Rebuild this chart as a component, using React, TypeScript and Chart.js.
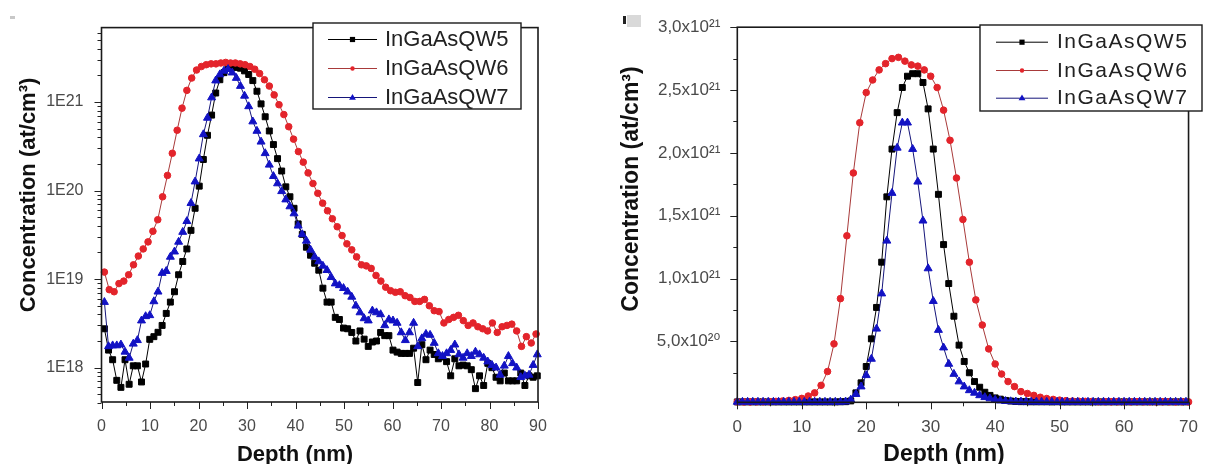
import React, { useEffect, useRef } from "react";
import { Chart, registerables } from "chart.js";

Chart.register(...registerables);

// ---------------- Series names ----------------
const NAME_QW5 = "InGaAsQW5";
const NAME_QW6 = "InGaAsQW6";
const NAME_QW7 = "InGaAsQW7";

// ---------------- Left panel (log scale) ----------------
const leftDepthQW6 = [
  0.6, 1.6, 2.6, 3.6, 4.6, 5.6, 6.6, 7.6, 8.6, 9.6,
  10.6, 11.6, 12.6, 13.6, 14.6, 15.6, 16.6, 17.6, 18.6, 19.6,
  20.6, 21.6, 22.6, 23.6, 24.6, 25.6, 26.6, 27.6, 28.6, 29.6,
  30.6, 31.6, 32.6, 33.6, 34.6, 35.6, 36.6, 37.6, 38.6, 39.6,
  40.6, 41.6, 42.6, 43.6, 44.6, 45.6, 46.6, 47.6, 48.6, 49.6,
  50.6, 51.6, 52.6, 53.6, 54.6, 55.6, 56.6, 57.6, 58.6, 59.6,
  60.6, 61.6, 62.6, 63.6, 64.6, 65.6, 66.6, 67.6, 68.6, 69.6,
  70.6, 71.6, 72.6, 73.6, 74.6, 75.6, 76.6, 77.6, 78.6, 79.6,
  80.6, 81.6, 82.6, 83.6, 84.6, 85.6, 86.6, 87.6, 88.6, 89.6,
];
const leftQW6 = [
  1.2e19, 7.6e18, 7.2e18, 8.9e18, 9.5e18, 1.12e19, 1.45e19, 1.82e19, 2.19e19, 2.63e19,
  3.47e19, 4.68e19, 8.5e19, 1.48e20, 2.63e20, 4.79e20, 8.5e20, 1.35e21, 1.86e21, 2.29e21,
  2.51e21, 2.63e21, 2.69e21, 2.69e21, 2.75e21, 2.79e21, 2.75e21, 2.75e21, 2.69e21, 2.63e21,
  2.51e21, 2.34e21, 2.09e21, 1.78e21, 1.51e21, 1.2e21, 9.3e20, 7.2e20, 5.25e20, 3.8e20,
  2.75e20, 2.09e20, 1.58e20, 1.2e20, 9.3e19, 7.2e19, 5.9e19, 4.8e19, 3.9e19, 3.1e19,
  2.5e19, 2.14e19, 1.78e19, 1.45e19, 1.41e19, 1.32e19, 1.1e19, 9.5e18, 8.1e18, 7.4e18,
  7.1e18, 7.2e18, 6.5e18, 6.2e18, 5.6e18, 5.6e18, 5.9e18, 5.0e18, 4.4e18, 4.3e18,
  3.2e18, 3.5e18, 3.7e18, 3.9e18, 3.4e18, 3.0e18, 3.2e18, 2.9e18, 2.75e18, 2.6e18,
  3.2e18, 2.5e18, 2.9e18, 3.0e18, 3.1e18, 2.6e18, 1.74e18, 2.24e18, 1.9e18, 2.4e18,
];
const leftDepthQW57 = [
  0.6, 1.45, 2.3, 3.15, 4, 4.85, 5.7, 6.55, 7.4, 8.25,
  9.1, 9.95, 10.8, 11.65, 12.5, 13.35, 14.2, 15.05, 15.9, 16.75,
  17.6, 18.45, 19.3, 20.15, 21, 21.85, 22.7, 23.55, 24.4, 25.25,
  26.1, 26.95, 27.8, 28.65, 29.5, 30.35, 31.2, 32.05, 32.9, 33.75,
  34.6, 35.45, 36.3, 37.15, 38, 38.85, 39.7, 40.55, 41.4, 42.25,
  43.1, 43.95, 44.8, 45.65, 46.5, 47.35, 48.2, 49.05, 49.9, 50.75,
  51.6, 52.45, 53.3, 54.15, 55, 55.85, 56.7, 57.55, 58.4, 59.25,
  60.1, 60.95, 61.8, 62.65, 63.5, 64.35, 65.2, 66.05, 66.9, 67.75,
  68.6, 69.45, 70.3, 71.15, 72, 72.85, 73.7, 74.55, 75.4, 76.25,
  77.1, 77.95, 78.8, 79.65, 80.5, 81.35, 82.2, 83.05, 83.9, 84.75,
  85.6, 86.45, 87.3, 88.15, 89, 89.85,
];
const leftQW5 = [
  2.75e18, 1.58e18, 1.23e18, 7.2e17, 6.0e17, 1.23e18, 6.5e17, 1.05e18, 1.05e18, 6.9e17,
  1.1e18, 2.09e18, 2.24e18, 2.51e18, 3.0e18, 4.1e18, 5.5e18, 7.2e18, 1.12e19, 1.58e19,
  2.19e19, 3.55e19, 6.3e19, 1.12e20, 2.24e20, 4.2e20, 7.1e20, 1.26e21, 1.78e21, 2.14e21,
  2.4e21, 2.51e21, 2.45e21, 2.4e21, 2.24e21, 2.04e21, 1.74e21, 1.32e21, 9.5e20, 6.8e20,
  4.7e20, 3.3e20, 2.29e20, 1.66e20, 1.1e20, 8.5e19, 6.3e19, 4.2e19, 3.2e19, 2.29e19,
  1.86e19, 1.51e19, 1.26e19, 7.9e18, 5.5e18, 5.5e18, 3.7e18, 3.5e18, 2.8e18, 2.75e18,
  2.5e18, 2.0e18, 2.6e18, 2.1e18, 1.74e18, 1.95e18, 2.0e18, 2.5e18, 2.3e18, 2.3e18,
  1.58e18, 1.5e18, 1.45e18, 1.45e18, 1.45e18, 1.66e18, 6.8e17, 1.82e18, 1.23e18, 1.58e18,
  1.41e18, 1.26e18, 1.32e18, 1.17e18, 8.1e17, 1.26e18, 1.05e18, 1.07e18, 1.05e18, 9.5e17,
  5.8e17, 8.1e17, 6.3e17, 1.12e18, 1.0e18, 7.8e17, 7.1e17, 8.7e17, 7.1e17, 7.1e17,
  7.1e17, 8.7e17, 6.3e17, 8.1e17, 7.8e17, 8.1e17,
];
const leftQW7 = [
  5.5e18, 1.74e18, 1.78e18, 1.78e18, 1.82e18, 1.51e18, 1.29e18, 1.86e18, 2.04e18, 3.4e18,
  3.8e18, 3.9e18, 5.6e18, 7.2e18, 1.17e19, 1.23e19, 1.78e19, 2.04e19, 2.63e19, 3.4e19,
  4.5e19, 7.2e19, 1.26e20, 2.29e20, 4.3e20, 6.6e20, 1.12e21, 1.74e21, 2.04e21, 2.24e21,
  2.34e21, 2.14e21, 1.86e21, 1.51e21, 1.17e21, 8.9e20, 6.0e20, 4.7e20, 3.55e20, 2.63e20,
  1.95e20, 1.45e20, 1.2e20, 9.8e19, 7.9e19, 6.6e19, 5.5e19, 4.0e19, 3.2e19, 2.7e19,
  2.14e19, 1.78e19, 1.58e19, 1.41e19, 1.26e19, 1.05e19, 8.9e18, 8.5e18, 7.9e18, 7.2e18,
  6.3e18, 5.0e18, 4.2e18, 3.6e18, 3.4e18, 4.4e18, 4.2e18, 4.0e18, 3.0e18, 3.5e18,
  3.4e18, 3.2e18, 2.5e18, 2.04e18, 2.5e18, 3.2e18, 1.74e18, 2.14e18, 2.4e18, 2.34e18,
  1.9e18, 1.45e18, 1.35e18, 1.45e18, 1.58e18, 1.82e18, 1.41e18, 1.29e18, 1.45e18, 1.35e18,
  1.51e18, 1.41e18, 1.29e18, 1.17e18, 1.07e18, 1.0e18, 8.3e17, 1.05e18, 1.35e18, 1.12e18,
  1.0e18, 7.8e17, 8.1e17, 8.3e17, 1.07e18, 1.41e18,
];

const leftXTicks = [0, 10, 20, 30, 40, 50, 60, 70, 80, 90];
const leftXMinor = [5, 15, 25, 35, 45, 55, 65, 75, 85];
const leftYTicks = [1e18, 1e19, 1e20, 1e21];
const leftYTickLabels = ["1E18", "1E19", "1E20", "1E21"];
const leftYMinor = [
  4e17, 5e17, 6e17, 7e17, 8e17, 9e17,
  2e18, 3e18, 4e18, 5e18, 6e18, 7e18, 8e18, 9e18,
  2e19, 3e19, 4e19, 5e19, 6e19, 7e19, 8e19, 9e19,
  2e20, 3e20, 4e20, 5e20, 6e20, 7e20, 8e20, 9e20,
  2e21, 3e21, 4e21, 5e21, 6e21,
];

// ---------------- Right panel (linear scale) ----------------
const rightDepthQW6 = [
  0, 1, 2, 3, 4, 5, 6, 7, 8, 9,
  10, 11, 12, 13, 14, 15, 16, 17, 18, 19,
  20, 21, 22, 23, 24, 25, 26, 27, 28, 29,
  30, 31, 32, 33, 34, 35, 36, 37, 38, 39,
  40, 41, 42, 43, 44, 45, 46, 47, 48, 49,
  50, 51, 52, 53, 54, 55, 56, 57, 58, 59,
  60, 61, 62, 63, 64, 65, 66, 67, 68, 69,
  70,
];
const rightQW6 = [
  1.8e19, 1.8e19, 1.8e19, 1.9e19, 1.9e19, 2.0e19, 2.2e19, 2.5e19, 3.0e19, 3.6e19,
  4.6e19, 6.5e19, 9.0e19, 1.5e20, 2.6e20, 4.8e20, 8.4e20, 1.34e21, 1.84e21, 2.24e21,
  2.48e21, 2.58e21, 2.66e21, 2.71e21, 2.75e21, 2.76e21, 2.73e21, 2.70e21, 2.69e21, 2.66e21,
  2.61e21, 2.52e21, 2.34e21, 2.10e21, 1.80e21, 1.47e21, 1.13e21, 8.3e20, 6.3e20, 4.4e20,
  3.2e20, 2.4e20, 1.8e20, 1.4e20, 1.0e20, 8.5e19, 7.0e19, 5.5e19, 4.5e19, 3.8e19,
  3.2e19, 2.8e19, 2.5e19, 2.3e19, 2.2e19, 2.1e19, 2.0e19, 2.0e19, 1.9e19, 2.0e19,
  1.9e19, 1.9e19, 2.0e19, 1.9e19, 1.9e19, 1.8e19, 1.9e19, 1.9e19, 1.8e19, 1.9e19,
  1.8e19,
];
const rightDepthQW57 = [
  0, 0.8, 1.6, 2.4, 3.2, 4, 4.8, 5.6, 6.4, 7.2,
  8, 8.8, 9.6, 10.4, 11.2, 12, 12.8, 13.6, 14.4, 15.2,
  16, 16.8, 17.6, 18.4, 19.2, 20, 20.8, 21.6, 22.4, 23.2,
  24, 24.8, 25.6, 26.4, 27.2, 28, 28.8, 29.6, 30.4, 31.2,
  32, 32.8, 33.6, 34.4, 35.2, 36, 36.8, 37.6, 38.4, 39.2,
  40, 40.8, 41.6, 42.4, 43.2, 44, 44.8, 45.6, 46.4, 47.2,
  48, 48.8, 49.6, 50.4, 51.2, 52, 52.8, 53.6, 54.4, 55.2,
  56, 56.8, 57.6, 58.4, 59.2, 60, 60.8, 61.6, 62.4, 63.2,
  64, 64.8, 65.6, 66.4, 67.2, 68, 68.8, 69.6,
];
const rightQW5 = [
  1.8e19, 1.8e19, 1.8e19, 1.8e19, 1.8e19, 1.8e19, 1.8e19, 1.8e19, 1.8e19, 1.8e19,
  1.8e19, 1.8e19, 1.8e19, 1.8e19, 1.8e19, 1.8e19, 1.8e19, 1.8e19, 1.8e19, 1.8e19,
  1.9e19, 2.0e19, 2.6e19, 9.0e19, 1.7e20, 3.0e20, 5.2e20, 7.7e20, 1.13e21, 1.65e21,
  2.03e21, 2.32e21, 2.52e21, 2.61e21, 2.63e21, 2.63e21, 2.56e21, 2.35e21, 2.03e21, 1.67e21,
  1.27e21, 9.6e20, 7.0e20, 4.7e20, 3.4e20, 2.5e20, 1.8e20, 1.35e20, 9.5e19, 7.0e19,
  5.0e19, 4.0e19, 3.0e19, 2.5e19, 2.2e19, 2.0e19, 2.0e19, 1.9e19, 1.9e19, 1.9e19,
  1.9e19, 1.8e19, 1.9e19, 1.8e19, 1.8e19, 1.8e19, 1.8e19, 1.8e19, 1.8e19, 1.8e19,
  1.8e19, 1.8e19, 1.8e19, 1.8e19, 1.8e19, 1.8e19, 1.8e19, 1.8e19, 1.8e19, 1.8e19,
  1.8e19, 1.8e19, 1.8e19, 1.8e19, 1.8e19, 1.8e19, 1.8e19, 1.8e19,
];
const rightQW7 = [
  1.8e19, 1.8e19, 1.8e19, 1.8e19, 1.8e19, 1.8e19, 1.8e19, 1.8e19, 1.8e19, 1.8e19,
  1.8e19, 1.8e19, 1.8e19, 1.8e19, 1.8e19, 1.8e19, 1.8e19, 1.8e19, 1.8e19, 1.8e19,
  1.8e19, 2.0e19, 3.5e19, 8.0e19, 1.4e20, 2.3e20, 3.6e20, 6.0e20, 8.8e20, 1.30e21,
  1.68e21, 2.04e21, 2.24e21, 2.24e21, 2.03e21, 1.77e21, 1.46e21, 1.08e21, 8.2e20, 5.9e20,
  4.5e20, 3.2e20, 2.4e20, 1.8e20, 1.4e20, 1.1e20, 9.0e19, 7.0e19, 5.5e19, 4.5e19,
  3.5e19, 2.8e19, 2.4e19, 2.2e19, 2.0e19, 2.0e19, 1.9e19, 1.9e19, 1.9e19, 1.8e19,
  1.8e19, 1.8e19, 1.8e19, 1.8e19, 1.8e19, 1.8e19, 1.8e19, 1.8e19, 1.8e19, 1.8e19,
  1.8e19, 1.8e19, 1.8e19, 1.8e19, 1.8e19, 1.8e19, 1.8e19, 1.8e19, 1.8e19, 1.8e19,
  1.8e19, 1.8e19, 1.8e19, 1.8e19, 1.8e19, 1.8e19, 1.8e19, 1.8e19,
];

const rightXTicks = [0, 10, 20, 30, 40, 50, 60, 70];
const rightXMinor = [5, 15, 25, 35, 45, 55, 65];
const rightYTicks = [5e20, 1e21, 1.5e21, 2e21, 2.5e21, 3e21];
const rightYTickLabels = ["5,0x10²⁰", "1,0x10²¹", "1,5x10²¹", "2,0x10²¹", "2,5x10²¹", "3,0x10²¹"];
const rightYMinor = [2.5e20, 7.5e20, 1.25e21, 1.75e21, 2.25e21, 2.75e21];

// ---------------- Styling ----------------
const FONT = "'Liberation Sans', Arial, 'DejaVu Sans', sans-serif";
const STYLE: Record<string, { fill: string; line: string; shape: string; r: number; lr: number }> = {
  [NAME_QW5]: { fill: "#000000", line: "#000000", shape: "rect", r: 4.2, lr: 2.6 },
  [NAME_QW6]: { fill: "#e3242b", line: "#a83a3a", shape: "circle", r: 3.3, lr: 2.2 },
  [NAME_QW7]: { fill: "#1212c4", line: "#15157a", shape: "triangle", r: 4.6, lr: 3.6 },
};
const ORDER: Record<string, number> = { [NAME_QW5]: 2, [NAME_QW6]: 1, [NAME_QW7]: 0 };

function dataset(name: string, xs: number[], ys: number[]) {
  const s = STYLE[name];
  return {
    label: name,
    data: xs.map((x, i) => ({ x, y: ys[i] })),
    borderColor: s.line,
    backgroundColor: s.fill,
    pointBackgroundColor: s.fill,
    pointBorderColor: s.fill,
    pointBorderWidth: 1,
    pointStyle: s.shape,
    pointRadius: s.r,
    borderWidth: 1,
    tension: 0,
    clip: false,
    order: ORDER[name],
  };
}

function drawMarker(ctx: CanvasRenderingContext2D, shape: string, x: number, y: number, r: number, color: string) {
  ctx.fillStyle = color;
  ctx.beginPath();
  if (shape === "rect") {
    ctx.rect(x - r, y - r, 2 * r, 2 * r);
  } else if (shape === "triangle") {
    ctx.moveTo(x, y - r);
    ctx.lineTo(x + r * 0.95, y + r * 0.6);
    ctx.lineTo(x - r * 0.95, y + r * 0.6);
    ctx.closePath();
  } else {
    ctx.arc(x, y, r, 0, Math.PI * 2);
  }
  ctx.fill();
}

type Decor = {
  key: string;
  xMajor: number[];
  xMinor: number[];
  yMajor: number[];
  yMinor: number[];
  yTitle: string;
  yTitleX: number;
  yTitleY: number;
  yTitleFont: string;
  xTitle: string;
  xTitleX: number;
  xTitleY: number;
  xTitleFont: string;
  legend: { x: number; y: number; w: number; h: number; rows: number[]; lx0: number; lx1: number; tx: number; font: string; spacing: string };
  artifacts: (ctx: CanvasRenderingContext2D) => void;
};

function makeDecor(d: Decor) {
  return {
    id: "decor-" + d.key,
    afterDraw(chart: any) {
      const ctx: CanvasRenderingContext2D = chart.ctx;
      const a = chart.chartArea;
      const xs = chart.scales.x;
      const ys = chart.scales.y;
      ctx.save();
      // tick marks (outward)
      ctx.strokeStyle = "#222";
      ctx.lineWidth = 1;
      ctx.beginPath();
      const xt = (v: number, len: number) => {
        const p = Math.round(xs.getPixelForValue(v)) + 0.5;
        ctx.moveTo(p, a.bottom);
        ctx.lineTo(p, a.bottom + len);
      };
      const yt = (v: number, len: number) => {
        const p = Math.round(ys.getPixelForValue(v)) + 0.5;
        ctx.moveTo(a.left, p);
        ctx.lineTo(a.left - len, p);
      };
      d.xMajor.forEach((v) => xt(v, 7));
      d.xMinor.forEach((v) => xt(v, 4));
      d.yMajor.forEach((v) => yt(v, 7));
      d.yMinor.forEach((v) => yt(v, 4));
      ctx.stroke();
      // frame
      ctx.strokeStyle = "#1a1a1a";
      ctx.lineWidth = 1.6;
      ctx.strokeRect(a.left, a.top, a.right - a.left, a.bottom - a.top);

      // axis titles
      ctx.fillStyle = "#111";
      ctx.font = d.xTitleFont;
      ctx.textAlign = "center";
      ctx.textBaseline = "alphabetic";
      ctx.fillText(d.xTitle, d.xTitleX, d.xTitleY);
      ctx.save();
      ctx.translate(d.yTitleX, d.yTitleY);
      ctx.rotate(-Math.PI / 2);
      ctx.font = d.yTitleFont;
      ctx.fillText(d.yTitle, 0, 0);
      ctx.restore();

      // legend
      const L = d.legend;
      ctx.fillStyle = "#fff";
      ctx.fillRect(L.x, L.y, L.w, L.h);
      ctx.strokeStyle = "#1a1a1a";
      ctx.lineWidth = 1.4;
      ctx.strokeRect(L.x, L.y, L.w, L.h);
      chart.data.datasets.forEach((ds: any, i: number) => {
        const s = STYLE[ds.label];
        const ry = L.rows[i];
        ctx.strokeStyle = s.line;
        ctx.lineWidth = 1;
        ctx.beginPath();
        ctx.moveTo(L.lx0, ry + 0.5);
        ctx.lineTo(L.lx1, ry + 0.5);
        ctx.stroke();
        drawMarker(ctx, s.shape, (L.lx0 + L.lx1) / 2, ry + 0.5, s.lr, s.fill);
        ctx.fillStyle = "#222";
        ctx.font = L.font;
        (ctx as any).letterSpacing = L.spacing;
        ctx.textAlign = "left";
        ctx.textBaseline = "middle";
        ctx.fillText(ds.label, L.tx, ry + 1);
        (ctx as any).letterSpacing = "0px";
      });
      d.artifacts(ctx);
      ctx.restore();
    },
  };
}

const tickFont = (size: number) => ({ family: FONT, size });

function leftConfig(): any {
  return {
    type: "line",
    data: {
      datasets: [
        dataset(NAME_QW5, leftDepthQW57, leftQW5),
        dataset(NAME_QW6, leftDepthQW6, leftQW6),
        dataset(NAME_QW7, leftDepthQW57, leftQW7),
      ],
    },
    options: {
      responsive: false,
      animation: false,
      devicePixelRatio: 1,
      layout: { padding: { left: 0, top: 19, right: 675, bottom: 0 } },
      plugins: { legend: { display: false }, tooltip: { enabled: false } },
      scales: {
        x: {
          type: "linear",
          min: 0,
          max: 90,
          afterBuildTicks: (s: any) => { s.ticks = leftXTicks.map((v) => ({ value: v })); },
          afterFit: (s: any) => { s.height = 62; },
          ticks: { autoSkip: false, maxRotation: 0, padding: 15, color: "#4a4a4a", font: tickFont(16), callback: (v: any) => String(v) },
          grid: { display: false, drawTicks: false },
          border: { display: false },
        },
        y: {
          type: "logarithmic",
          min: 4.1e17,
          max: 6.9e21,
          afterBuildTicks: (s: any) => { s.ticks = leftYTicks.map((v) => ({ value: v })); },
          afterFit: (s: any) => { s.width = 101.5; },
          ticks: {
            autoSkip: false,
            padding: 18,
            color: "#4a4a4a",
            font: tickFont(16),
            callback: (v: any) => { const i = leftYTicks.indexOf(v); return i >= 0 ? leftYTickLabels[i] : ""; },
          },
          grid: { display: false, drawTicks: false },
          border: { display: false },
        },
      },
    },
    plugins: [
      makeDecor({
        key: "left",
        xMajor: leftXTicks,
        xMinor: leftXMinor,
        yMajor: leftYTicks,
        yMinor: leftYMinor,
        yTitle: "Concentration (at/cm³)",
        yTitleX: 35,
        yTitleY: 195,
        yTitleFont: `bold 22px ${FONT}`,
        xTitle: "Depth (nm)",
        xTitleX: 295,
        xTitleY: 461,
        xTitleFont: `bold 22px ${FONT}`,
        legend: { x: 313, y: 23, w: 208, h: 86, rows: [39, 68, 97], lx0: 328, lx1: 377, tx: 385, font: `22px ${FONT}`, spacing: "0px" },
        artifacts: (ctx) => { ctx.fillStyle = "#c8c8c8"; ctx.fillRect(10, 16, 5, 3); },
      }),
    ],
  };
}

function rightConfig(): any {
  return {
    type: "line",
    data: {
      datasets: [
        dataset(NAME_QW5, rightDepthQW57, rightQW5),
        dataset(NAME_QW6, rightDepthQW6, rightQW6),
        dataset(NAME_QW7, rightDepthQW57, rightQW7),
      ],
    },
    options: {
      responsive: false,
      animation: false,
      devicePixelRatio: 1,
      layout: { padding: { left: 610, top: 23.3, right: 10.3, bottom: 0 } },
      plugins: { legend: { display: false }, tooltip: { enabled: false } },
      scales: {
        x: {
          type: "linear",
          min: 0,
          max: 70,
          afterBuildTicks: (s: any) => { s.ticks = rightXTicks.map((v) => ({ value: v })); },
          afterFit: (s: any) => { s.height = 61.7; },
          ticks: { autoSkip: false, maxRotation: 0, padding: 15, color: "#4a4a4a", font: tickFont(17), callback: (v: any) => String(v) },
          grid: { display: false, drawTicks: false },
          border: { display: false },
        },
        y: {
          type: "linear",
          min: 1.5e19,
          max: 3e21,
          afterBuildTicks: (s: any) => { s.ticks = rightYTicks.map((v) => ({ value: v })); },
          afterFit: (s: any) => { s.width = 127.3; },
          ticks: {
            autoSkip: false,
            padding: 17,
            color: "#4a4a4a",
            font: tickFont(17),
            callback: (v: any) => { const i = rightYTicks.indexOf(v); return i >= 0 ? rightYTickLabels[i] : ""; },
          },
          grid: { display: false, drawTicks: false },
          border: { display: false },
        },
      },
    },
    plugins: [
      makeDecor({
        key: "right",
        xMajor: rightXTicks,
        xMinor: rightXMinor,
        yMajor: rightYTicks,
        yMinor: rightYMinor,
        yTitle: "Concentration (at/cm³)",
        yTitleX: 638,
        yTitleY: 189,
        yTitleFont: `bold 23px ${FONT}`,
        xTitle: "Depth (nm)",
        xTitleX: 944,
        xTitleY: 461,
        xTitleFont: `bold 23px ${FONT}`,
        legend: { x: 980, y: 25, w: 222, h: 86, rows: [41.7, 70, 97.7], lx0: 996, lx1: 1048, tx: 1057, font: `21px ${FONT}`, spacing: "1.5px" },
        artifacts: (ctx) => {
          ctx.fillStyle = "#d9d9d9";
          ctx.fillRect(627, 15, 14, 12);
          ctx.fillStyle = "#222";
          ctx.fillRect(623, 16, 3, 8);
        },
      }),
    ],
  };
}

export default function App() {
  const leftRef = useRef<HTMLCanvasElement>(null);
  const rightRef = useRef<HTMLCanvasElement>(null);
  useEffect(() => {
    const c1 = new Chart(leftRef.current as HTMLCanvasElement, leftConfig());
    const c2 = new Chart(rightRef.current as HTMLCanvasElement, rightConfig());
    return () => {
      c1.destroy();
      c2.destroy();
    };
  }, []);
  return (
    <div style={{ position: "absolute", left: 0, top: 0, width: 1213, height: 464, background: "#fff", overflow: "hidden" }}>
      <canvas ref={leftRef} width={1213} height={464} style={{ position: "absolute", left: 0, top: 0 }} />
      <canvas ref={rightRef} width={1213} height={464} style={{ position: "absolute", left: 0, top: 0 }} />
    </div>
  );
}
